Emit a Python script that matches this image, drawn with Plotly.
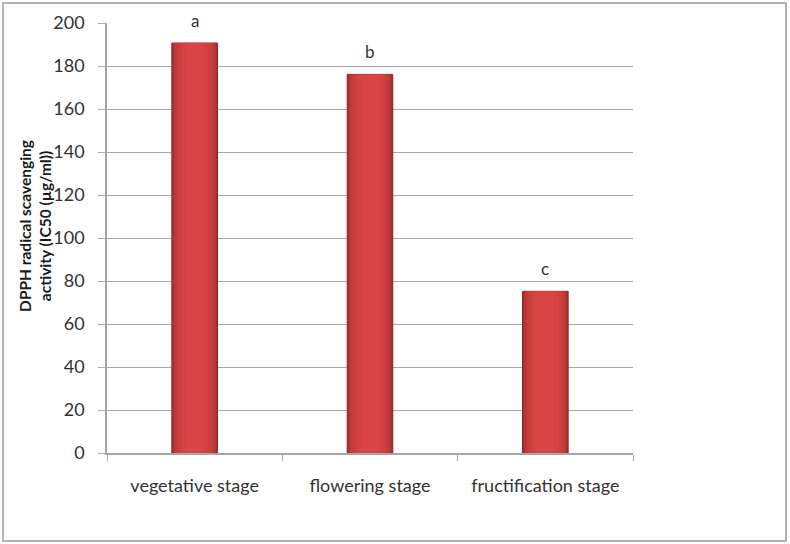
import plotly.graph_objects as go

# Data
stages = ["vegetative stage", "flowering stage", "fructification stage"]
ic50 = [190.7, 176.1, 75.2]
letters = ["a", "b", "c"]
y_ticks = [0, 20, 40, 60, 80, 100, 120, 140, 160, 180, 200]

FONT = "Lato, 'Open Sans', sans-serif"
GRID = "#a6a6a6"
TEXT = "#333333"

fig = go.Figure()
# layered bars fake the bevelled gradient of the original
layers = [
    (0.26, "#a83030", "#8a2424"),
    (0.24, "#b83636", None),
    (0.22, "#c43a3a", None),
    (0.19, "#cd3e3e", None),
    (0.15, "#d44242", None),
    (0.10, "#d94545", None),
]
for w, col, edge in layers:
    fig.add_trace(
        go.Bar(
            x=stages,
            y=ic50,
            width=w,
            marker=dict(
                color=col,
                line=dict(color=edge or col, width=1 if edge else 0),
            ),
            showlegend=False,
            hoverinfo="skip",
        )
    )

# significance letters above each bar
for s, v, t in zip(stages, ic50, letters):
    fig.add_annotation(
        x=s, y=v, text=t, showarrow=False, yanchor="bottom", yshift=10,
        font=dict(family=FONT, size=17, color=TEXT),
    )

# y-axis title (two lines, bold)
fig.add_annotation(
    xref="paper", yref="paper", x=-0.137, y=0.528,
    xanchor="center", yanchor="middle",
    text="<b>DPPH radical scavenging<br>activity (IC50 (µg/ml))</b>",
    textangle=-90, showarrow=False,
    font=dict(family=FONT, size=15.5, color="#1a1a1a"),
)

# outer chart border
fig.add_shape(
    type="rect", xref="paper", yref="paper",
    x0=-0.1977, x1=1.291, y0=-0.2047, y1=1.0465,
    line=dict(color="#9a9a9a", width=1.5), fillcolor="rgba(0,0,0,0)",
    layer="below",
)

fig.update_layout(
    width=790,
    height=544,
    margin=dict(l=107, r=157, t=23, b=91),
    paper_bgcolor="white",
    plot_bgcolor="white",
    font=dict(family=FONT, color=TEXT),
    barmode="overlay",
    xaxis=dict(
        showgrid=False,
        showline=True,
        linecolor=GRID,
        linewidth=1.5,
        ticks="outside",
        tickson="boundaries",
        ticklen=6,
        tickcolor=GRID,
        tickfont=dict(family=FONT, size=18, color=TEXT),
        ticklabelstandoff=16,
    ),
    yaxis=dict(
        range=[0, 200],
        tickvals=y_ticks,
        showgrid=True,
        gridcolor=GRID,
        gridwidth=1,
        showline=True,
        linecolor=GRID,
        linewidth=1.5,
        ticks="outside",
        ticklen=7,
        tickcolor=GRID,
        tickfont=dict(family=FONT, size=18, color=TEXT),
        ticklabelstandoff=10,
        zeroline=False,
    ),
)

fig.write_html(
    "out.html",
    config={"displayModeBar": False},
    post_script="document.body.style.margin='0';",
)
